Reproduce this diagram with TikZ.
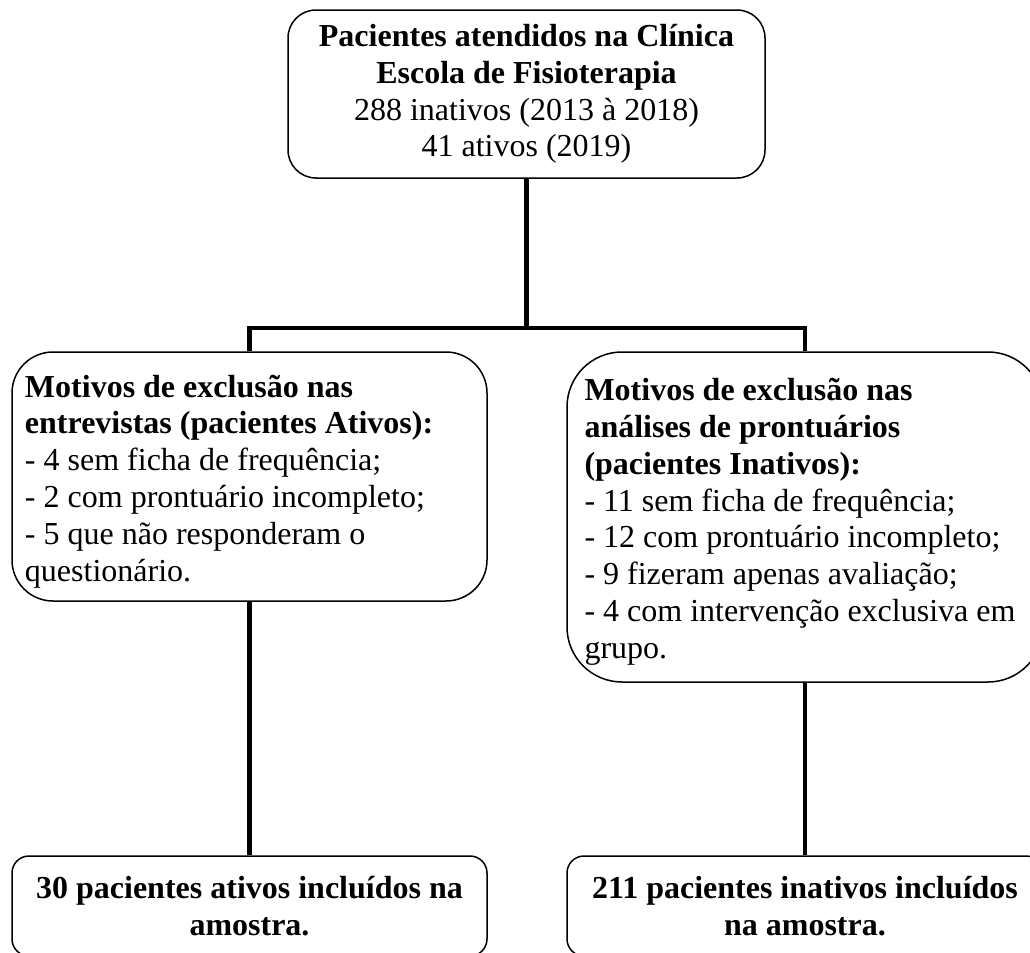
\documentclass[tikz,border=0pt]{standalone}
\usepackage{fontspec}
\setmainfont{Liberation Serif}
\usepackage{tikz}
\usetikzlibrary{positioning,calc}

\begin{document}
\begin{tikzpicture}[
    x=0.5pt, y=-0.5pt,
    box/.style={rectangle, draw, line width=0.75pt, inner ysep=0pt, font=\fontsize{16}{18.4}\selectfont, execute at begin node=\rule{0pt}{16pt}},
    listbox/.style={box, align=flush left, text width=#1},
    endbox/.style={box, align=center, minimum height=50pt, rounded corners=8.5pt, inner xsep=2pt, font=\fontsize{16}{18.4}\selectfont\bfseries, execute at begin node={}},
    conn/.style={line width=2.25pt},
]
    \useasboundingbox (0,0) rectangle (1030,953);
    \clip (0,0) rectangle (1030,953);

    % Total
    \node[box, align=center, minimum width=238.5pt, minimum height=84pt, rounded corners=14pt] (total) at (526.5,94) {
        \textbf{Pacientes atendidos na Clínica}\\
        \textbf{Escola de Fisioterapia}\\
        288 inativos (2013 à 2018)\\
        41 ativos (2019)
    };

    % Exclusions
    \node[listbox=224.5pt, inner xsep=6.5pt, minimum height=124.5pt, rounded corners=20.5pt] (exclA) at (249.5,476.5) {
        \textbf{Motivos de exclusão nas}\\
        \textbf{entrevistas (pacientes Ativos):}\\
        - 4 sem ficha de frequência;\\
        - 2 com prontuário incompleto;\\
        - 5 que não responderam o\\
        questionário.
    };
    \node[listbox=220.5pt, inner xsep=8.75pt, minimum height=165pt, rounded corners=27.5pt] (exclI) at (805,517) {
        \textbf{Motivos de exclusão nas}\\
        \textbf{análises de prontuários}\\
        \textbf{(pacientes Inativos):}\\
        - 11 sem ficha de frequência;\\
        - 12 com prontuário incompleto;\\
        - 9 fizeram apenas avaliação;\\
        - 4 com intervenção exclusiva em\\
        grupo.
    };

    % Included
    \node[endbox, minimum width=237.5pt] (inclA) at (249.5,906) {
        30 pacientes ativos incluídos na\\
        amostra.
    };
    \node[endbox, minimum width=238pt] (inclI) at (805,906) {
        211 pacientes inativos incluídos\\
        na amostra.
    };

    % Connectors
    \coordinate (bar) at (0,328);
    \draw[conn] (total.south) -- (total.south |- bar);
    \draw[conn] (exclA.north) -- (exclA.north |- bar) -- (exclI.north |- bar) -- (exclI.north);
    \draw[conn] (exclA.south) -- (inclA.north);
    \draw[conn] (exclI.south) -- (inclI.north);
\end{tikzpicture}
\end{document}
